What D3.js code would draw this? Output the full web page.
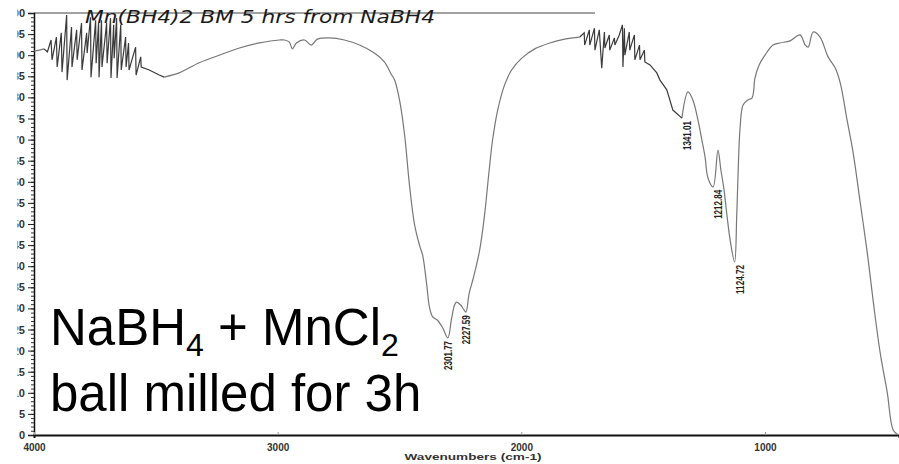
<!DOCTYPE html>
<html><head><meta charset="utf-8">
<script src="https://cdn.jsdelivr.net/npm/d3@7"></script>
<style>
html,body{margin:0;padding:0;background:#fff;}
svg{display:block;font-family:"Liberation Sans",Arial,sans-serif;}
</style></head>
<body>
<svg id="chart" width="899" height="464"></svg>
<script>
// ---- data: [wavenumber cm-1, transmittance %] ----
const startA = [[4000,91.0],[3979,91.2],[3959,91.5]];
const noiseA = [[3959,91.5],[3945,90.8],[3930,93.6],[3926,88.9],[3908,94.3],[3905,87.2],[3888,95.3],[3885,86.0],[3866,99.5],[3864,84.1],[3846,96.7],[3844,87.2],[3825,96.0],[3823,88.9],[3805,97.6],[3803,86.5],[3784,95.3],[3782,90.5],[3768,99.0],[3766,84.8],[3747,98.3],[3745,88.1],[3735,97.6],[3733,84.8],[3723,98.3],[3721,87.2],[3702,97.6],[3700,88.1],[3686,98.8],[3684,84.6],[3673,97.2],[3671,89.3],[3661,98.8],[3659,84.6],[3644,97.2],[3642,86.5],[3624,94.3],[3622,87.2],[3612,92.9],[3610,86.5],[3583,91.9],[3581,85.3],[3562,89.6],[3560,87.2],[3527,86.5],[3486,85.3],[3466,84.8]];
const smoothB = [[3466,84.8],[3404,85.8],[3322,88.2],[3240,90.0],[3157,91.7],[3075,92.9],[2993,93.6],[2972,93.6],[2952,93.1],[2940,91.5],[2923,92.9],[2890,93.6],[2862,92.4],[2837,93.8],[2788,94.1],[2726,93.6],[2664,92.4],[2603,90.5],[2562,88.4],[2535,85.6],[2520,84.1],[2500,79.4],[2479,71.1],[2459,59.2],[2438,49.8],[2418,45.0],[2405,42.6],[2389,36.0],[2377,30.3],[2364,28.0],[2344,27.2],[2323,25.4],[2301.77,23.0],[2286,27.7],[2274,30.8],[2266,31.5],[2249,30.8],[2237,29.8],[2227.59,29.1],[2214,33.6],[2197,37.2],[2171,43.8],[2151,52.1],[2134,61.6],[2118,69.9],[2097,77.0],[2069,82.9],[2040,86.5],[1998,89.3],[1945,91.5],[1883,92.9],[1822,93.8],[1760,94.3]];
const noiseB = [[1760,94.3],[1742,95.3],[1740,92.4],[1721,96.0],[1719,92.4],[1700,96.4],[1698,91.2],[1680,96.0],[1670,86.9],[1659,95.5],[1657,91.7],[1639,94.8],[1637,91.2],[1618,94.1],[1616,92.4],[1598,94.8],[1585,97.2],[1583,87.2],[1577,96.4],[1575,90.0],[1557,95.5],[1555,91.2],[1536,94.8],[1534,88.9],[1515,92.4],[1513,88.9],[1495,91.2],[1493,88.4],[1472,87.7],[1444,85.8],[1431,84.1],[1403,81.8],[1378,77.0],[1341.01,75.1]];
const smoothC = [[1341.01,75.1],[1316,81.3],[1296,79.4],[1275,74.6],[1259,69.9],[1246,65.9],[1234,60.9],[1212.84,58.8],[1193,67.5],[1181,62.8],[1168,58.1],[1156,52.0],[1143,46.2],[1124.72,41.0],[1116,52.0],[1110,62.8],[1102,73.0],[1090,78.2],[1070,79.4],[1053,79.9],[1041,84.6],[1024,87.7],[1000,90.0],[967,92.4],[938,92.9],[897,93.4],[856,94.8],[835,92.4],[823,91.9],[802,95.5],[774,94.3],[741,89.6],[712,87.0],[691,83.4],[663,74.6],[638,66.8],[609,55.0],[580,43.1],[555,31.3],[527,19.4],[498,10.0],[474,1.2],[453,0.0]];

const peakWavenumbers = [2301.77, 2227.59, 1341.01, 1212.84, 1124.72];
const peakLabels = ["2301.77", "2227.59", "1341.01", "1212.84", "1124.72"];

const xTickValues = [4000, 3000, 2000, 1000];
const xTickLabels = ["4000", "3000", "2000", "1000"];
const yTickValues = d3.range(0, 101, 5);
const yMinorTicks = d3.range(0, 101, 1);

const xTitle = "Wavenumbers (cm-1)";
const noteText = "Mn(BH4)2 BM 5 hrs from NaBH4";

// ---- layout ----
const svg = d3.select("#chart");
const X0 = 34, X1 = 899, Y0 = 435, Y1 = 13;
const x = d3.scaleLinear().domain([4000, 450]).range([X0, X1]);
const y = d3.scaleLinear().domain([0, 100]).range([Y0, Y1]);

// clip for y axis (the scan is cut at the left edge)
const defs = svg.append("defs");
defs.append("clipPath").attr("id", "lclip").append("rect")
  .attr("x", 17.5 - X0).attr("y", 0).attr("width", 60).attr("height", 464);

// top frame line (faded scan)
svg.append("line").attr("x1", X0).attr("x2", 595).attr("y1", Y1).attr("y2", Y1)
  .attr("stroke", "#444").attr("stroke-width", 1);

// y axis
const yAxisMinor = d3.axisLeft(y).tickValues(yMinorTicks).tickSize(3).tickFormat("");
svg.append("g").attr("transform", `translate(${X0},0)`).call(yAxisMinor)
  .call(g => g.select(".domain").remove())
  .call(g => g.selectAll("line").attr("stroke", "#333"));
const yAxis = d3.axisLeft(y).tickValues(yTickValues).tickSize(6).tickPadding(3).tickFormat(d => String(d));
const yg = svg.append("g").attr("transform", `translate(${X0},0)`).attr("clip-path", "url(#lclip)").call(yAxis);
yg.select(".domain").attr("stroke", "#111").attr("stroke-width", 1.5);
yg.selectAll("line").attr("stroke", "#222");
yg.selectAll("text").attr("font-size", 11).attr("font-weight", "bold").attr("fill", "#333")
  .attr("font-family", "Liberation Sans, Arial, sans-serif");

// x axis
const xAxis = d3.axisBottom(x).tickValues(xTickValues).tickSize(3).tickPadding(6)
  .tickFormat((d, i) => xTickLabels[i]);
const xg = svg.append("g").attr("transform", `translate(0,${Y0})`).call(xAxis);
xg.select(".domain").attr("stroke", "#111").attr("stroke-width", 2);
xg.selectAll("line").attr("stroke", "#999").attr("y2", -3);
xg.selectAll("text").attr("font-size", 10).attr("font-weight", "bold").attr("fill", "#333")
  .attr("font-family", "Liberation Sans, Arial, sans-serif");

svg.append("text").attr("x", 473).attr("y", 460).attr("text-anchor", "middle")
  .attr("font-size", 9.5).attr("font-weight", "bold").attr("fill", "#333")
  .attr("textLength", 137).attr("lengthAdjust", "spacingAndGlyphs").text(xTitle);

// handwritten note
svg.append("text").attr("x", 85).attr("y", 23)
  .attr("font-size", 17).attr("font-family", "DejaVu Sans, sans-serif").attr("font-style", "italic")
  .attr("fill", "#1a1a1a").attr("textLength", 350).attr("lengthAdjust", "spacingAndGlyphs")
  .text(noteText);

// spectrum
const lineSmooth = d3.line().x(d => x(d[0])).y(d => y(d[1])).curve(d3.curveCatmullRom.alpha(0.5));
const lineRaw = d3.line().x(d => x(d[0])).y(d => y(d[1]));
[startA, smoothB, smoothC].forEach(seg => {
  svg.append("path").datum(seg).attr("d", lineSmooth)
    .attr("fill", "none").attr("stroke", "#777").attr("stroke-width", 1.2);
});
[noiseA, noiseB].forEach(seg => {
  svg.append("path").datum(seg).attr("d", lineRaw)
    .attr("fill", "none").attr("stroke", "#3a3a3a").attr("stroke-width", 1.2);
});

// peak labels
const allPts = startA.concat(noiseA, smoothB, noiseB, smoothC);
peakWavenumbers.forEach((wn, i) => {
  const p = allPts.find(d => d[0] === wn);
  const dx = wn > 2000 ? 4 : 9;
  const px = x(wn) + dx, py = y(p[1]) + 3;
  svg.append("text").attr("transform", `translate(${px},${py}) rotate(-90)`)
    .attr("text-anchor", "end").attr("font-size", 10).attr("font-weight", "bold")
    .attr("fill", "#222").attr("textLength", 29).attr("lengthAdjust", "spacingAndGlyphs")
    .text(peakLabels[i]);
});

// big annotation
const t1 = svg.append("text").attr("x", 50).attr("y", 345).attr("font-size", 51).attr("fill", "#000")
  .attr("font-family", "Liberation Sans, Arial, sans-serif");
t1.append("tspan").text("NaBH");
t1.append("tspan").attr("font-size", 32).attr("dy", 11).text("4");
t1.append("tspan").attr("dy", -11).text(" + MnCl");
t1.append("tspan").attr("font-size", 32).attr("dy", 11).text("2");
svg.append("text").attr("x", 50).attr("y", 411).attr("font-size", 51).attr("fill", "#000")
  .attr("font-family", "Liberation Sans, Arial, sans-serif").text("ball milled for 3h");
</script>
</body></html>
